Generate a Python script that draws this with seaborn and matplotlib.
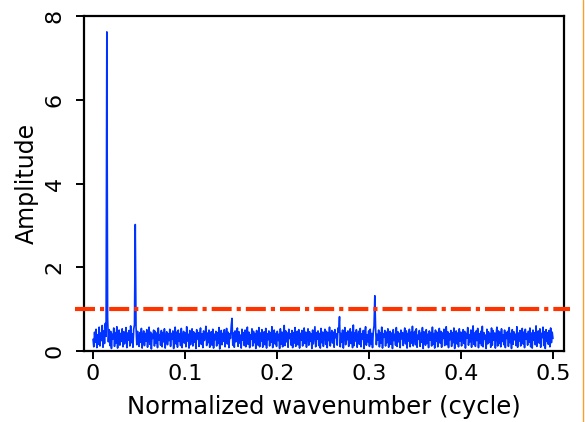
import numpy as np
import pandas as pd
import seaborn as sns
import matplotlib.pyplot as plt
from matplotlib.lines import Line2D

# amplitude spectrum (600 samples from 0 to 0.5 cycle)
amplitude = [
    0.28, 0.10, 0.45, 0.21, 0.52, 0.08, 0.39, 0.16, 0.57, 0.12, 0.43, 0.25, 0.61, 0.09, 0.48, 0.18, 0.66, 0.35, 7.62, 0.79,
    0.22, 0.51, 0.13, 0.47, 0.06, 0.40, 0.29, 0.55, 0.11, 0.44, 0.19, 0.58, 0.07, 0.37, 0.50, 0.14, 0.42, 0.23, 0.53, 0.10,
    0.46, 0.17, 0.39, 0.56, 0.08, 0.43, 0.26, 0.49, 0.12, 0.60, 0.20, 0.41, 0.09, 0.52, 0.63, 3.02, 0.58, 0.15, 0.47, 0.27,
    0.11, 0.44, 0.21, 0.54, 0.07, 0.38, 0.48, 0.13, 0.42, 0.24, 0.51, 0.09, 0.36, 0.57, 0.16, 0.45, 0.05, 0.40, 0.30, 0.50,
    0.12, 0.47, 0.19, 0.43, 0.08, 0.55, 0.26, 0.39, 0.14, 0.49, 0.10, 0.44, 0.22, 0.53, 0.07, 0.37, 0.46, 0.15, 0.41, 0.25,
    0.52, 0.11, 0.42, 0.28, 0.48, 0.06, 0.39, 0.57, 0.17, 0.45, 0.09, 0.50, 0.23, 0.41, 0.13, 0.54, 0.08, 0.36, 0.47, 0.19,
    0.43, 0.10, 0.58, 0.24, 0.40, 0.07, 0.49, 0.15, 0.37, 0.53, 0.12, 0.46, 0.21, 0.42, 0.06, 0.51, 0.29, 0.44, 0.11, 0.39,
    0.55, 0.16, 0.41, 0.08, 0.48, 0.25, 0.36, 0.59, 0.13, 0.43, 0.20, 0.50, 0.09, 0.38, 0.46, 0.14, 0.52, 0.07, 0.40, 0.27,
    0.47, 0.12, 0.44, 0.18, 0.56, 0.05, 0.39, 0.49, 0.15, 0.42, 0.23, 0.51, 0.10, 0.37, 0.54, 0.17, 0.45, 0.08, 0.41, 0.30,
    0.60, 0.78, 0.14, 0.43, 0.09, 0.48, 0.22, 0.40, 0.55, 0.11, 0.46, 0.19, 0.38, 0.07, 0.52, 0.26, 0.44, 0.13, 0.50, 0.10,
    0.41, 0.57, 0.16, 0.45, 0.08, 0.39, 0.28, 0.53, 0.12, 0.47, 0.20, 0.42, 0.06, 0.49, 0.35, 0.14, 0.56, 0.10, 0.43, 0.24,
    0.51, 0.09, 0.38, 0.46, 0.15, 0.54, 0.07, 0.41, 0.27, 0.48, 0.12, 0.44, 0.21, 0.58, 0.08, 0.37, 0.50, 0.17, 0.42, 0.11,
    0.47, 0.25, 0.40, 0.06, 0.53, 0.16, 0.45, 0.10, 0.39, 0.61, 0.13, 0.48, 0.22, 0.43, 0.09, 0.52, 0.30, 0.41, 0.14, 0.49,
    0.08, 0.44, 0.19, 0.56, 0.11, 0.38, 0.47, 0.15, 0.51, 0.07, 0.42, 0.26, 0.49, 0.12, 0.40, 0.55, 0.18, 0.45, 0.09, 0.37,
    0.53, 0.14, 0.46, 0.23, 0.41, 0.06, 0.50, 0.17, 0.39, 0.58, 0.10, 0.44, 0.28, 0.48, 0.13, 0.42, 0.07, 0.54, 0.20, 0.45,
    0.11, 0.40, 0.52, 0.16, 0.47, 0.08, 0.43, 0.25, 0.57, 0.12, 0.38, 0.49, 0.19, 0.45, 0.09, 0.51, 0.32, 0.41, 0.14, 0.55,
    0.46, 0.82, 0.10, 0.42, 0.21, 0.50, 0.07, 0.39, 0.56, 0.15, 0.44, 0.27, 0.48, 0.11, 0.40, 0.53, 0.18, 0.45, 0.08, 0.62,
    0.13, 0.43, 0.24, 0.51, 0.09, 0.37, 0.47, 0.16, 0.54, 0.10, 0.41, 0.29, 0.49, 0.06, 0.44, 0.58, 0.14, 0.39, 0.22, 0.48,
    0.11, 0.52, 0.17, 0.42, 0.08, 0.46, 0.60, 1.32, 0.55, 0.15, 0.40, 0.26, 0.50, 0.10, 0.44, 0.19, 0.57, 0.07, 0.41, 0.33,
    0.49, 0.12, 0.45, 0.20, 0.53, 0.09, 0.38, 0.47, 0.16, 0.43, 0.06, 0.51, 0.25, 0.40, 0.14, 0.56, 0.11, 0.46, 0.22, 0.42,
    0.08, 0.50, 0.29, 0.44, 0.13, 0.39, 0.55, 0.17, 0.48, 0.07, 0.42, 0.24, 0.52, 0.10, 0.45, 0.19, 0.59, 0.12, 0.41, 0.47,
    0.15, 0.53, 0.09, 0.38, 0.28, 0.49, 0.11, 0.43, 0.21, 0.56, 0.06, 0.46, 0.35, 0.14, 0.51, 0.18, 0.40, 0.08, 0.48, 0.26,
    0.44, 0.12, 0.57, 0.16, 0.42, 0.07, 0.50, 0.23, 0.45, 0.10, 0.39, 0.54, 0.19, 0.47, 0.09, 0.43, 0.30, 0.52, 0.13, 0.40,
    0.58, 0.15, 0.46, 0.08, 0.41, 0.27, 0.49, 0.11, 0.44, 0.20, 0.55, 0.06, 0.38, 0.48, 0.17, 0.43, 0.10, 0.53, 0.24, 0.45,
    0.12, 0.40, 0.51, 0.18, 0.47, 0.07, 0.42, 0.31, 0.56, 0.14, 0.39, 0.22, 0.50, 0.09, 0.45, 0.60, 0.16, 0.43, 0.11, 0.48,
    0.25, 0.54, 0.08, 0.41, 0.19, 0.47, 0.13, 0.59, 0.10, 0.44, 0.28, 0.38, 0.06, 0.52, 0.17, 0.46, 0.21, 0.42, 0.09, 0.55,
    0.14, 0.49, 0.26, 0.43, 0.07, 0.40, 0.57, 0.12, 0.48, 0.18, 0.45, 0.10, 0.53, 0.23, 0.39, 0.15, 0.50, 0.08, 0.44, 0.30,
    0.47, 0.11, 0.56, 0.20, 0.42, 0.06, 0.51, 0.16, 0.46, 0.27, 0.40, 0.13, 0.58, 0.09, 0.43, 0.24, 0.49, 0.12, 0.38, 0.54,
    0.17, 0.45, 0.08, 0.52, 0.29, 0.41, 0.14, 0.47, 0.21, 0.55, 0.10, 0.43, 0.07, 0.50, 0.26, 0.44, 0.15, 0.60, 0.11, 0.39,
    0.48, 0.19, 0.53, 0.09, 0.42, 0.32, 0.57, 0.13, 0.46, 0.06, 0.51, 0.23, 0.44, 0.16, 0.49, 0.10, 0.55, 0.20, 0.45, 0.30,
]
wavenumber = np.linspace(0, 0.5, len(amplitude))
threshold = 1.0

x_ticks = [0, 0.1, 0.2, 0.3, 0.4, 0.5]
x_tick_labels = ['0', '0.1', '0.2', '0.3', '0.4', '0.5']
y_ticks = [0, 2, 4, 6, 8]
y_tick_labels = ['0', '2', '4', '6', '8']

df = pd.DataFrame({'k': wavenumber, 'amp': amplitude})

sns.set_style('ticks')
plt.rcParams['font.family'] = ['DejaVu Sans']
plt.rcParams['xtick.labelsize'] = 16
plt.rcParams['ytick.labelsize'] = 16

fig = plt.figure(figsize=(5.85, 4.22), dpi=100)
ax = fig.add_axes([0.1436, 0.1682, 0.8205, 0.7939])

sns.lineplot(data=df, x='k', y='amp', ax=ax, color='#0033ff', linewidth=1.2, estimator=None)

# detection threshold, drawn a bit past both spines like the original
ax.axhline(threshold, xmin=-0.019, xmax=1.0125, color='#ff3300', linewidth=3,
           linestyle=(0, (4.8, 1.2, 1.0, 1.2)), clip_on=False, zorder=3)

ax.set_xlim(-0.0098, 0.512)
ax.set_ylim(0, 8)
ax.set_xticks(x_ticks)
ax.set_xticklabels(x_tick_labels)
ax.set_yticks(y_ticks)
ax.set_yticklabels(y_tick_labels, rotation=90, va='center')

ax.tick_params(direction='out', length=6, width=1.4, color='black', labelcolor='black')
ax.tick_params(axis='x', pad=3.5)
ax.tick_params(axis='y', pad=8)

for s in ax.spines.values():
    s.set_linewidth(1.6)
    s.set_color('black')

ax.set_xlabel('Normalized wavenumber (cycle)', fontsize=17.5, labelpad=8, color='black')
ax.set_ylabel('Amplitude', fontsize=17, labelpad=4, color='black')

# thin orange border on the right edge of the picture
fig.add_artist(Line2D([583 / 585, 583 / 585], [0, 1], transform=fig.transFigure,
                      color='#f5a030', linewidth=1))

for lab in ax.get_xticklabels() + ax.get_yticklabels():
    lab.set_fontsize(16)

fig.savefig('out.png', dpi=100)
